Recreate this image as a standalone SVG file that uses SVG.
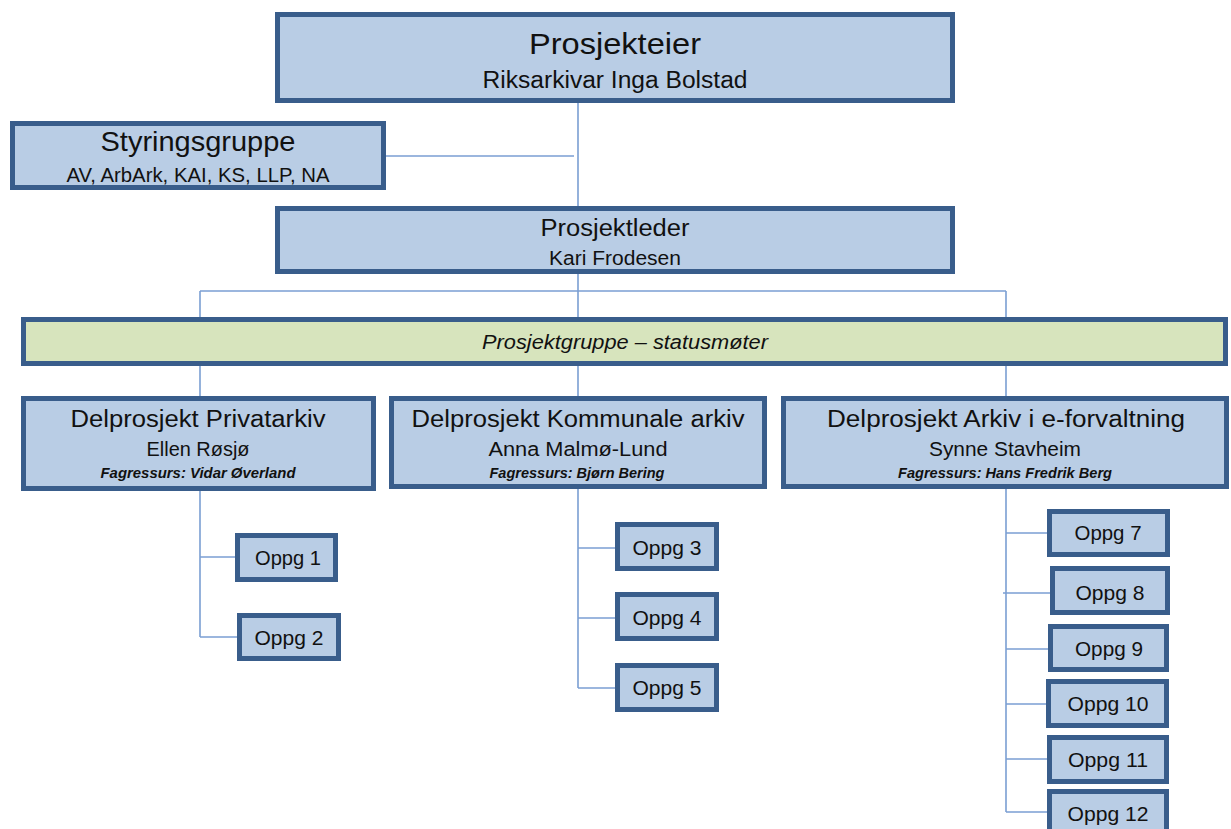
<svg xmlns="http://www.w3.org/2000/svg" width="1231" height="829" viewBox="0 0 1231 829">
<style>
.box{fill:#b9cde5;stroke:#395d8b;stroke-width:5}
.bar{fill:#d7e4bd;stroke:#395d8b;stroke-width:5}
.ln{stroke:#7b9fd3;stroke-width:1.6;fill:none}
text{font-family:"Liberation Sans",Arial,sans-serif;fill:#111;text-anchor:middle}
.t0{font-size:30px}
.t1{font-size:28px}
.t2{font-size:23px}
.t3{font-size:20px}
.it{font-style:italic}
.fg{font-size:14px;font-style:italic;font-weight:bold}
</style>
<rect width="1231" height="829" fill="#fff"/>
<g id="connectors">
<path class="ln" d="M578,103V206M386,156H574M578,274V291M200,291H1006M200,291V317M578,291V317M1006,291V317M200,366V396M578,366V396M1006,366V396"/>
<path class="ln" d="M200,491V637M200,557H235M200,637H237"/>
<path class="ln" d="M578,489V688M578,548H615M578,618H615M578,688H615"/>
<path class="ln" d="M1006,489V812M1006,533H1047M1003,593H1050M1006,649H1048M1006,704H1046M1006,759H1047M1006,812H1047"/>
</g>
<g id="prosjekteier">
<rect class="box" x="277.5" y="14.5" width="675" height="86"/>
<text class="t0" x="615" y="54" textLength="172" lengthAdjust="spacingAndGlyphs">Prosjekteier</text>
<text class="t2" x="615" y="88" textLength="265" lengthAdjust="spacingAndGlyphs">Riksarkivar Inga Bolstad</text>
</g>
<g id="styringsgruppe">
<rect class="box" x="12.5" y="123.5" width="371" height="64"/>
<text class="t1" x="198" y="151" textLength="195" lengthAdjust="spacingAndGlyphs">Styringsgruppe</text>
<text class="t3" x="198" y="182" textLength="263" lengthAdjust="spacingAndGlyphs">AV, ArbArk, KAI, KS, LLP, NA</text>
</g>
<g id="prosjektleder">
<rect class="box" x="277.5" y="208.5" width="675" height="63"/>
<text class="t2" x="615" y="236" textLength="149" lengthAdjust="spacingAndGlyphs">Prosjektleder</text>
<text class="t3" x="615" y="265" textLength="132" lengthAdjust="spacingAndGlyphs">Kari Frodesen</text>
</g>
<g id="prosjektgruppe">
<rect class="bar" x="23.5" y="319.5" width="1202" height="44"/>
<text class="t3 it" x="625" y="349" textLength="286" lengthAdjust="spacingAndGlyphs">Prosjektgruppe – statusmøter</text>
</g>
<g id="delprosjekt-privatarkiv">
<rect class="box" x="23.5" y="398.5" width="350" height="90"/>
<text class="t2" x="198" y="427" textLength="255" lengthAdjust="spacingAndGlyphs">Delprosjekt Privatarkiv</text>
<text class="t3" x="198" y="456" textLength="103" lengthAdjust="spacingAndGlyphs">Ellen Røsjø</text>
<text class="fg" x="198" y="478" textLength="195" lengthAdjust="spacingAndGlyphs">Fagressurs: Vidar Øverland</text>
</g>
<g id="delprosjekt-kommunale">
<rect class="box" x="391.5" y="398.5" width="373" height="88"/>
<text class="t2" x="578" y="427" textLength="333" lengthAdjust="spacingAndGlyphs">Delprosjekt Kommunale arkiv</text>
<text class="t3" x="578" y="456" textLength="179" lengthAdjust="spacingAndGlyphs">Anna Malmø-Lund</text>
<text class="fg" x="577" y="478" textLength="175" lengthAdjust="spacingAndGlyphs">Fagressurs: Bjørn Bering</text>
</g>
<g id="delprosjekt-e-forvaltning">
<rect class="box" x="783.5" y="398.5" width="443" height="88"/>
<text class="t2" x="1006" y="427" textLength="358" lengthAdjust="spacingAndGlyphs">Delprosjekt Arkiv i e-forvaltning</text>
<text class="t3" x="1005" y="456" textLength="152" lengthAdjust="spacingAndGlyphs">Synne Stavheim</text>
<text class="fg" x="1005" y="478" textLength="214" lengthAdjust="spacingAndGlyphs">Fagressurs: Hans Fredrik Berg</text>
</g>
<g id="oppg1"><rect class="box" x="237.5" y="535.5" width="98" height="44"/><text class="t3" x="288" y="565" textLength="66" lengthAdjust="spacingAndGlyphs">Oppg 1</text></g>
<g id="oppg2"><rect class="box" x="239.5" y="615.5" width="99" height="43"/><text class="t3" x="289" y="645" textLength="69" lengthAdjust="spacingAndGlyphs">Oppg 2</text></g>
<g id="oppg3"><rect class="box" x="617.5" y="524.5" width="99" height="44"/><text class="t3" x="667" y="555" textLength="69" lengthAdjust="spacingAndGlyphs">Oppg 3</text></g>
<g id="oppg4"><rect class="box" x="617.5" y="594.5" width="99" height="44"/><text class="t3" x="667" y="625" textLength="69" lengthAdjust="spacingAndGlyphs">Oppg 4</text></g>
<g id="oppg5"><rect class="box" x="617.5" y="665.5" width="99" height="44"/><text class="t3" x="667" y="695" textLength="69" lengthAdjust="spacingAndGlyphs">Oppg 5</text></g>
<g id="oppg7"><rect class="box" x="1049.5" y="511.5" width="118" height="43"/><text class="t3" x="1108" y="540" textLength="67" lengthAdjust="spacingAndGlyphs">Oppg 7</text></g>
<g id="oppg8"><rect class="box" x="1052.5" y="568.5" width="115" height="44"/><text class="t3" x="1110" y="600" textLength="69" lengthAdjust="spacingAndGlyphs">Oppg 8</text></g>
<g id="oppg9"><rect class="box" x="1050.5" y="626.5" width="116" height="43"/><text class="t3" x="1109" y="656" textLength="68" lengthAdjust="spacingAndGlyphs">Oppg 9</text></g>
<g id="oppg10"><rect class="box" x="1048.5" y="681.5" width="118" height="44"/><text class="t3" x="1108" y="711" textLength="81" lengthAdjust="spacingAndGlyphs">Oppg 10</text></g>
<g id="oppg11"><rect class="box" x="1049.5" y="737.5" width="117" height="44"/><text class="t3" x="1108" y="767" textLength="80" lengthAdjust="spacingAndGlyphs">Oppg 11</text></g>
<g id="oppg12"><rect class="box" x="1049.5" y="791.5" width="117" height="44"/><text class="t3" x="1108" y="821" textLength="81" lengthAdjust="spacingAndGlyphs">Oppg 12</text></g>
</svg>
